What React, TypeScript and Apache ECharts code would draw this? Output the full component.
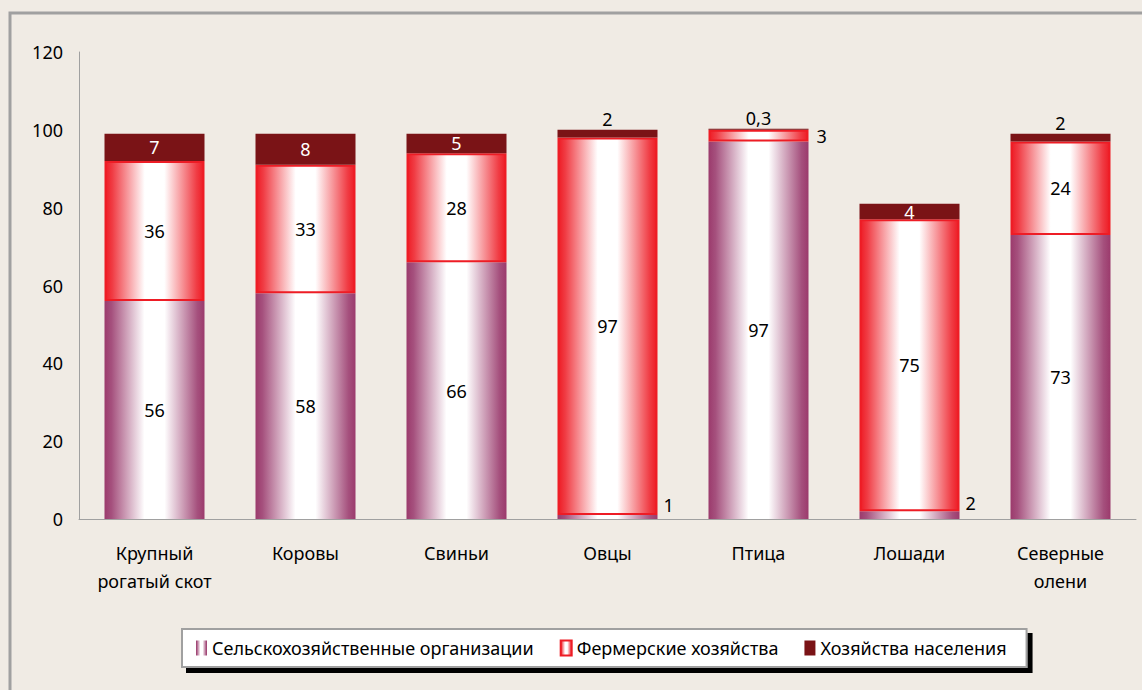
import React, { useEffect, useRef } from "react";
import * as echarts from "echarts";

const categories = ["Крупный\nрогатый скот", "Коровы", "Свиньи", "Овцы", "Птица", "Лошади", "Северные\nолени"];
const seriesNames = ["Сельскохозяйственные организации", "Фермерские хозяйства", "Хозяйства населения"];
const orgValues = [56, 58, 66, 1, 97, 2, 73];
const farmValues = [36, 33, 28, 97, 3, 75, 24];
const popValues = [7, 8, 5, 2, 0.3, 4, 2];
const yTicks = { min: 0, max: 120, interval: 20 };

const FONT = "'Noto Sans', sans-serif";

function grad(edge: string, near: string) {
  return new echarts.graphic.LinearGradient(0, 0, 1, 0, [
    { offset: 0, color: edge },
    { offset: 0.07, color: near },
    { offset: 0.4, color: "#ffffff" },
    { offset: 0.6, color: "#ffffff" },
    { offset: 0.93, color: near },
    { offset: 1, color: edge },
  ]);
}

export default function App() {
  const ref = useRef<HTMLDivElement>(null);
  useEffect(() => {
    if (!ref.current) return;
    const chart = echarts.init(ref.current, null, { renderer: "svg" });
    const fmt = (v: number) => String(v).replace(".", ",");
    chart.setOption({
      animation: false,
      backgroundColor: "#f0ebe4",
      textStyle: { fontFamily: FONT },
      graphic: [
        {
          type: "rect",
          shape: { x: 10, y: 13, width: 1200, height: 800 },
          style: { fill: "none", stroke: "#a0a0a0", lineWidth: 3 },
          silent: true,
        },
      ],
      grid: { left: 79, right: 6, top: 52, bottom: 171 },
      legend: {
        left: 182,
        top: 629,
        padding: [10, 20, 10, 14],
        itemGap: 26,
        itemWidth: 11,
        itemHeight: 15,
        icon: "rect",
        backgroundColor: "#ffffff",
        borderColor: "#a0a0a0",
        borderWidth: 2,
        shadowColor: "#000000",
        shadowBlur: 0,
        shadowOffsetX: 5,
        shadowOffsetY: 5,
        textStyle: { fontSize: 18, color: "#000", fontFamily: FONT },
        data: seriesNames,
      },
      xAxis: {
        type: "category",
        data: categories,
        axisLine: { lineStyle: { color: "#a0a0a0", width: 1 } },
        axisTick: { show: false },
        axisLabel: { color: "#000", fontSize: 18, margin: 20, lineHeight: 28, fontFamily: FONT },
      },
      yAxis: {
        type: "value",
        min: yTicks.min,
        max: yTicks.max,
        interval: yTicks.interval,
        axisLine: { show: true, lineStyle: { color: "#a0a0a0", width: 1 } },
        axisTick: { show: false },
        splitLine: { show: false },
        axisLabel: { color: "#000", fontSize: 18, margin: 16, fontFamily: FONT },
      },
      series: [
        {
          name: seriesNames[0],
          type: "bar",
          stack: "total",
          barWidth: 100,
          itemStyle: { color: grad("#9b3a6c", "#a5507d") },
          data: orgValues.map((v) =>
            v < 5 ? { value: v, label: { position: "right", distance: 6, offset: [0, -12] } } : v
          ),
          label: { show: true, position: "inside", color: "#000", fontSize: 18, fontFamily: FONT, formatter: (p: any) => fmt(p.value) },
        },
        {
          name: seriesNames[1],
          type: "bar",
          stack: "total",
          barWidth: 100,
          itemStyle: { color: grad("#ee1c25", "#f03c44"), borderColor: "#ee1c25", borderWidth: 2 },
          data: farmValues.map((v) =>
            v < 5 ? { value: v, label: { position: "right", distance: 8 } } : v
          ),
          label: { show: true, position: "inside", color: "#000", fontSize: 18, fontFamily: FONT, formatter: (p: any) => fmt(p.value) },
        },
        {
          name: seriesNames[2],
          type: "bar",
          stack: "total",
          barWidth: 100,
          itemStyle: { color: "#7a1316" },
          data: popValues.map((v) =>
            v < 3 ? { value: v, label: { position: "top", distance: 2, color: "#000" } } : v
          ),
          label: { show: true, position: "inside", color: "#fff", fontSize: 18, fontFamily: FONT, formatter: (p: any) => fmt(p.value) },
        },
      ],
    });
    return () => chart.dispose();
  }, []);
  return (
    <div
      ref={ref}
      style={{ position: "absolute", left: 0, top: 0, width: 1142, height: 690, background: "#f0ebe4" }}
    />
  );
}
